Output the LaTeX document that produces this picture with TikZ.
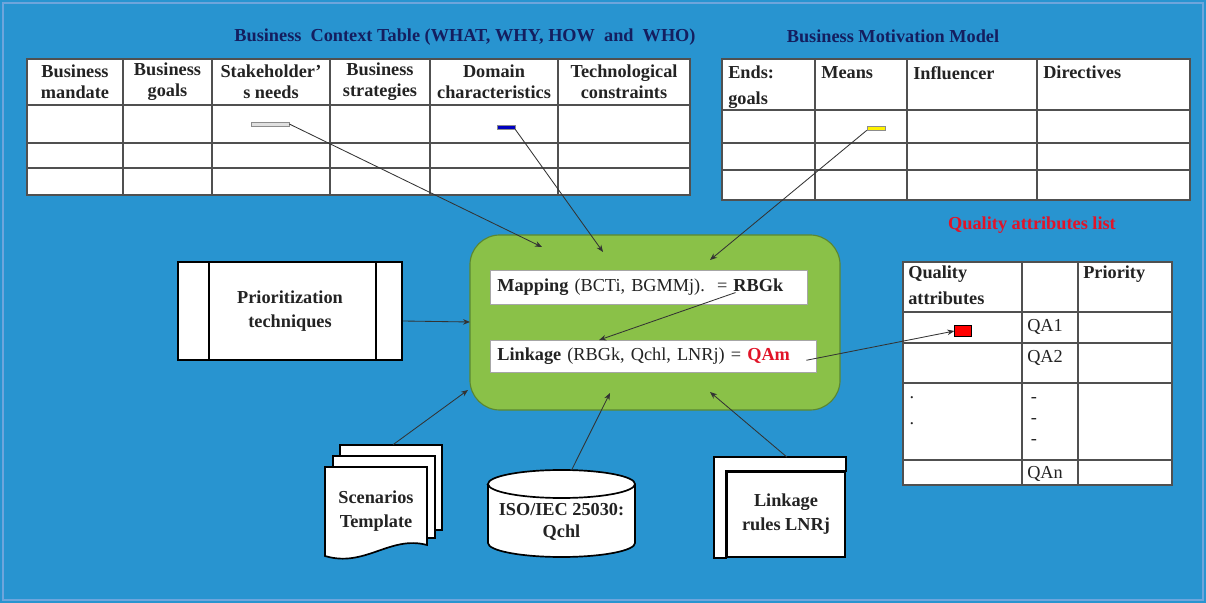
\documentclass[tikz,border=0pt]{standalone}
\usepackage{fontspec}
\setmainfont{Liberation Serif}
\usetikzlibrary{arrows.meta,positioning,shapes.geometric,calc}
\definecolor{bgblue}{RGB}{40,148,208}
\definecolor{bgedge}{RGB}{110,165,220}
\definecolor{procgreen}{RGB}{138,193,72}
\definecolor{procedge}{RGB}{90,135,50}
\definecolor{titlenavy}{RGB}{20,30,95}
\definecolor{qared}{RGB}{225,20,40}
\definecolor{tabrule}{RGB}{80,80,80}
\definecolor{txtgray}{RGB}{35,35,35}

\begin{document}
\begin{tikzpicture}[x=0.025cm,y=-0.025cm,>={Stealth[length=5pt,width=4pt]},
  every node/.style={font=\fontsize{13}{14.5}\selectfont,text=txtgray},
  title/.style={font=\fontsize{13}{15}\selectfont\bfseries,text=titlenavy},
  hdr/.style={font=\fontsize{13}{15}\selectfont\bfseries,align=center,inner sep=0pt},
  lhdr/.style={font=\fontsize{13}{18}\selectfont\bfseries,align=left,anchor=north west,inner sep=0pt},
  grid/.style={draw=tabrule,line width=0.8pt},
  marker/.style={draw=black!45,minimum width=0.45cm,minimum height=3pt,inner sep=0pt},
  conn/.style={->,draw=black!80,line width=0.6pt},
  inbox/.style={draw=black!35,fill=white,inner sep=5pt,align=left,minimum height=0.85cm},
  shapebox/.style={draw=black,line width=1.2pt,fill=white,align=center,
                   font=\fontsize{13}{17}\selectfont\bfseries}]

\fill[bgblue] (0,0) rectangle (1206,603);
\draw[bgedge,line width=2pt] (3,3) rectangle (1203,600);

\node[title] (bcttitle) at (465,37) {Business\ \ Context Table (WHAT, WHY, HOW\ \ and\ \ WHO)};
\node[title] (bmmtitle) at (893,36) {Business Motivation Model};
\node[title,text=qared] (qalist) at (1032,225) {Quality attributes list};

\filldraw[grid,fill=white] (27,59) rectangle (690,195);
\foreach \x in {123,212,330,430,558}
  \draw[grid] (\x,59) -- (\x,195);
\foreach \y in {105,143,168}
  \draw[grid] (27,\y) -- (690,\y);
\foreach \x/\t in {75/{Business\\mandate},167.5/{Business\\goals},271/{Stakeholder'\\s needs},
                   380/{Business\\strategies},494/{Domain\\characteristics},624/{Technological\\constraints}}
  \node[hdr] at (\x,82) {\t};

\filldraw[grid,fill=white] (722,59) rectangle (1190,200);
\foreach \x in {815,907,1037}
  \draw[grid] (\x,59) -- (\x,200);
\foreach \y in {110,143,170}
  \draw[grid] (722,\y) -- (1190,\y);
\node[lhdr] at (728,66) {Ends:\\goals};
\node[lhdr] at (821,66) {Means};
\node[lhdr] at (913,66) {Influencer};
\node[lhdr] at (1043,66) {Directives};

\filldraw[grid,fill=white] (903,262) rectangle (1172,485);
\foreach \x in {1022,1078}
  \draw[grid] (\x,262) -- (\x,485);
\foreach \y in {312,343,383,460}
  \draw[grid] (903,\y) -- (1172,\y);
\node[lhdr] at (908,266) {Quality\\attributes};
\node[lhdr] at (1083,266) {Priority};
\node[anchor=west,inner sep=0pt] (qa1) at (1027,327) {QA1};
\node[anchor=west,inner sep=0pt] (qa2) at (1027,358) {QA2};
\node[anchor=west,inner sep=0pt] (qan) at (1027,474) {QAn};
\foreach \y in {398,424}
  \node[inner sep=0pt] at (912,\y) {.};
\foreach \y in {400,421,442}
  \node[inner sep=0pt] at (1034,\y) {-};

\node[marker,fill=black!12,minimum width=0.95cm] (snmark) at (270,124) {};
\node[marker,fill=blue!75!black] (dcmark) at (506,127) {};
\node[marker,fill=yellow] (mnmark) at (876,128) {};
\node[marker,draw=black,fill=red,minimum width=0.42cm,minimum height=0.27cm] (qamark) at (963,331) {};

\node[draw=procedge,line width=0.8pt,fill=procgreen,rounded corners=0.75cm,
      minimum width=9.25cm,minimum height=4.375cm] (proc) at (655,322.5) {};
\node[inbox,text width=7.57cm,anchor=north west] (map) at (490,270)
  {\textbf{Mapping} (BCTi, BGMMj).\ \ = \textbf{RBGk}};
\node[inbox,text width=7.79cm,anchor=north west,minimum height=0.8cm] (link) at (490,340)
  {\textbf{Linkage} (RBGk, Qchl, LNRj) = \textcolor{qared}{\textbf{QAm}}};

\node[shapebox,minimum width=5.6cm,minimum height=2.45cm] (prio) at (290,311) {Prioritization\\techniques};
\draw[line width=1.2pt] ($(prio.north west)+(32,0)$) -- ($(prio.south west)+(32,0)$);
\draw[line width=1.2pt] ($(prio.north east)+(-27,0)$) -- ($(prio.south east)+(-27,0)$);

\filldraw[line width=1.2pt,fill=white] (340,445) rectangle (442,530);
\filldraw[line width=1.2pt,fill=white] (333,456) rectangle (435,538);
\filldraw[line width=1.2pt,fill=white] (325,467) -- (427,467) -- (427,545)
  .. controls (390,535) and (365,568) .. (325,556) -- cycle;
\node[align=center,font=\fontsize{13}{17}\selectfont\bfseries,minimum width=2.55cm,
      minimum height=2.2cm] (scen) at (376,511) {Scenarios\\Template};

\filldraw[line width=1.2pt,fill=white] (488,484) -- (488,543)
  arc[start angle=180,end angle=360,x radius=1.8375cm,y radius=0.35cm] -- (635,484)
  arc[start angle=0,end angle=180,x radius=1.8375cm,y radius=0.35cm] -- cycle;
\draw[line width=1.2pt] (488,484) arc[start angle=180,end angle=360,x radius=1.8375cm,y radius=0.35cm];
\node[align=center,font=\fontsize{13}{16}\selectfont\bfseries,minimum width=3.675cm,
      minimum height=2.175cm] (iso) at (561.5,522) {ISO/IEC 25030:\\Qchl};

\node[shapebox,minimum width=2.95cm,minimum height=2.125cm] (lnr) at (786,514.5) {Linkage\\rules LNRj};
\filldraw[line width=1.2pt,fill=white] ($(lnr.south west)+(-12,0)$) |- ($(lnr.north east)+(0,-14)$)
  -- (lnr.north east) -- (lnr.north west) -- (lnr.south west) -- cycle;

\coordinate (e1) at (542,247);
\coordinate (e2) at (603,252);
\coordinate (e3) at (710,260);
\coordinate (e4) at (470,322);
\coordinate (e7) at (468,390);
\coordinate (e8) at (610,393);
\coordinate (e9) at (710,392);

\draw[conn] (snmark.east) -- (e1);
\draw[conn] (dcmark.south east) -- (e2);
\draw[conn] (mnmark.south west) -- (e3);
\draw[conn] ($(prio.east)+(0,10)$) -- (e4);
\draw[conn] ([xshift=-1.8cm,yshift=0.3cm]map.south east) -- ([xshift=-1.35cm]link.north);
\draw[conn] ([xshift=-0.25cm,yshift=-0.1cm]link.east) -- (qamark.west);
\draw[conn] ($(scen.north)+(17,-22)$) -- (e7);
\draw[conn] ($(iso.north)+(10,-8)$) -- (e8);
\draw[conn] ($(lnr.north)+(1,-14)$) -- (e9);
\end{tikzpicture}
\end{document}
